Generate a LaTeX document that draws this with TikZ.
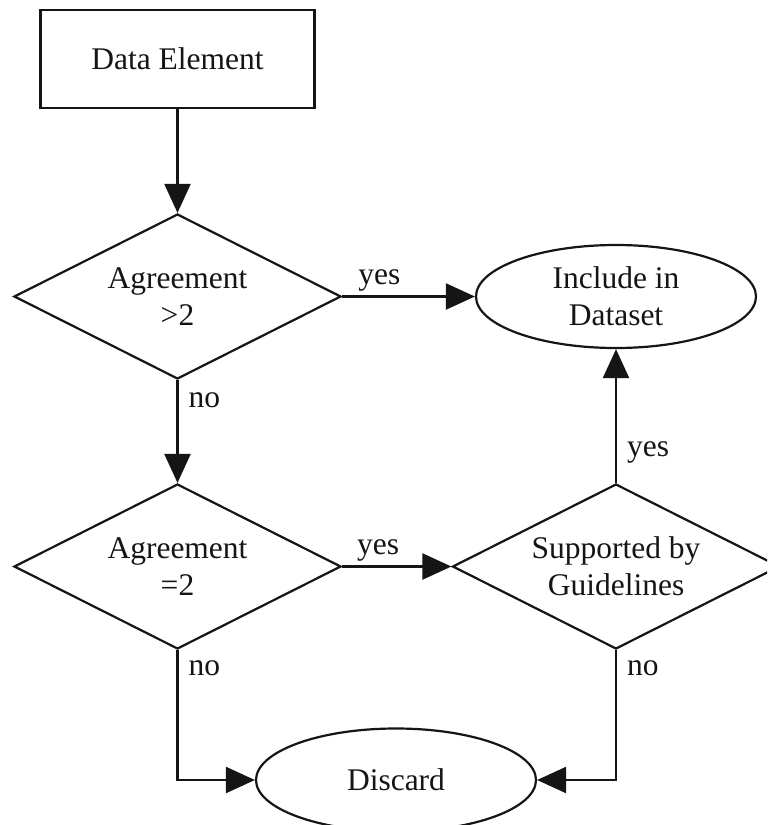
\documentclass[tikz,border=0pt]{standalone}
\usepackage{fontspec}
\setmainfont{Liberation Serif}
\usepackage{tikz}
\usetikzlibrary{arrows.meta,positioning,shapes.geometric}
\definecolor{ink}{HTML}{151515}
\tikzset{
    every picture/.style={line join=miter},
    labelfont/.style={font=\fontsize{15.75}{18.5}\selectfont},
    procbox/.style={draw=ink,rectangle,line width=1.1pt,
      minimum width=137pt,minimum height=49pt,inner sep=0pt,
      labelfont,text=ink,align=center},
    decision/.style={draw=ink,diamond,aspect=2,line width=1.1pt,
      minimum width=163.5pt,minimum height=82.5pt,inner sep=0pt,
      labelfont,text=ink,align=center},
    terminal/.style={draw=ink,ellipse,line width=1.1pt,
      minimum width=140pt,minimum height=51.5pt,inner sep=0pt,
      labelfont,text=ink,align=center},
    flowarrow/.style={-{Triangle[length=14.5pt,width=13pt]},draw=ink,
      line width=1.1pt},
    edgelabel/.style={inner sep=2pt,labelfont,text=ink}
}
\begin{document}
\begin{tikzpicture}[x=0.5pt,y=-0.5pt]
  \useasboundingbox (0,0) rectangle (767,825);
  \clip (0,0) rectangle (767,825);
  \fill[white] (0,0) rectangle (767,825);
  % nodes, placed at pixel positions of the layout
  \node[procbox] (elem) at (177.5,59) {Data Element};
  \node[decision] (agrmore) at (177.5,296.5) {Agreement\\>2};
  \node[decision] (agrtwo) at (177.5,566.5) {Agreement\\=2};
  \node[decision] (guide) at (616,566.5) {Supported by\\Guidelines};
  \node[terminal] (include) at (616,296.5) {Include in\\Dataset};
  \node[terminal] (discard) at (396,780) {Discard};
  % connectors
  \draw[flowarrow] (elem.south) -- (agrmore.north);
  \draw[flowarrow] (agrmore.east) -- node[edgelabel,above,pos=0.28] (y1) {yes} (include.west);
  \draw[flowarrow] (agrmore.south) -- node[edgelabel,right=3pt,pos=0.2] (n1) {no} (agrtwo.north);
  \draw[flowarrow] (agrtwo.east) -- node[edgelabel,above,pos=0.33] (y2) {yes} (guide.west);
  \draw[flowarrow] (guide.north) -- node[edgelabel,right=3pt,pos=0.23] (y3) {yes} (include.south);
  \draw[flowarrow] (agrtwo.south) |- node[edgelabel,right=3pt,pos=0.068] (n2) {no} (discard.west);
  \draw[flowarrow] (guide.south) |- node[edgelabel,right=3pt,pos=0.068] (n3) {no} (discard.east);
\end{tikzpicture}
\end{document}
